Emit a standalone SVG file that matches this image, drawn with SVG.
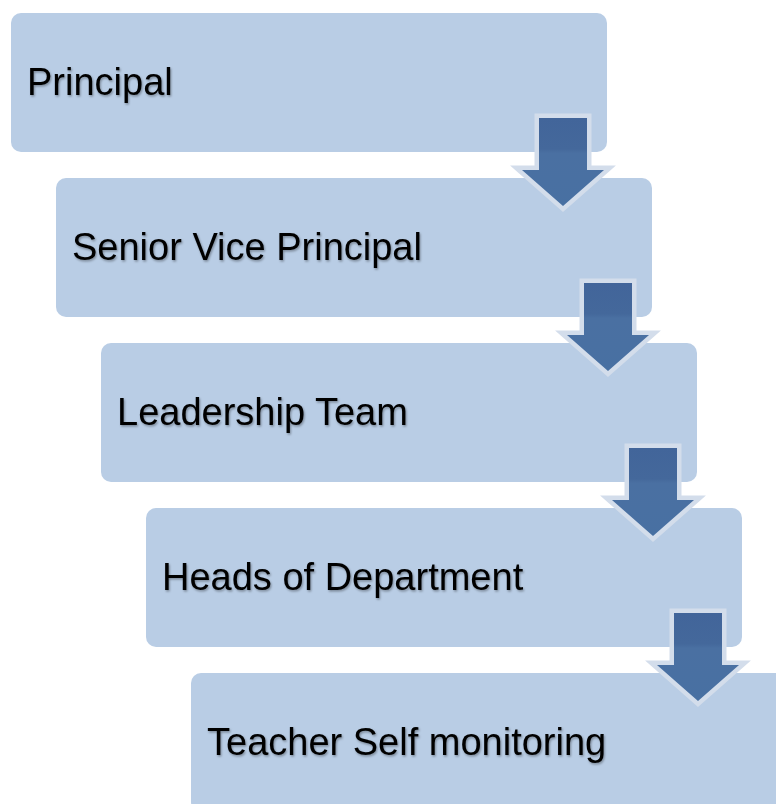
<svg xmlns="http://www.w3.org/2000/svg" width="776" height="804" viewBox="0 0 776 804">
  <defs>
    <linearGradient id="arrowGrad" x1="0" y1="0" x2="0" y2="1">
      <stop offset="0" stop-color="#42659A"/>
      <stop offset="0.35" stop-color="#44689B"/>
      <stop offset="0.4" stop-color="#4A70A2"/>
      <stop offset="1" stop-color="#4870A2"/>
    </linearGradient>
    <filter id="txtShadow" x="-5%" y="-20%" width="110%" height="140%">
      <feDropShadow dx="1" dy="1.5" stdDeviation="1" flood-color="#000000" flood-opacity="0.35"/>
    </filter>
  </defs>
  <style>
    .box { fill: #B9CDE5; }
    .label { font-family: "Liberation Sans", Arial, sans-serif; font-size: 38px; fill: #000000; filter: url(#txtShadow); }
    .arrow { fill: url(#arrowGrad); stroke: #D3DDEB; stroke-width: 9; stroke-linejoin: miter; stroke-miterlimit: 10; paint-order: stroke; }
  </style>
  <rect width="776" height="804" fill="#FFFFFF"/>

  <g id="node-principal">
    <rect class="box" x="11" y="13" width="596" height="139" rx="10"/>
    <text class="label" x="27" y="95">Principal</text>
  </g>
  <g id="node-senior-vice-principal">
    <rect class="box" x="56" y="178" width="596" height="139" rx="10"/>
    <text class="label" x="72" y="260">Senior Vice Principal</text>
  </g>
  <g id="node-leadership-team">
    <rect class="box" x="101" y="343" width="596" height="139" rx="10"/>
    <text class="label" x="117" y="425">Leadership Team</text>
  </g>
  <g id="node-heads-of-department">
    <rect class="box" x="146" y="508" width="596" height="139" rx="10"/>
    <text class="label" x="162" y="590">Heads of Department</text>
  </g>
  <g id="node-teacher-self-monitoring">
    <rect class="box" x="191" y="673" width="596" height="139" rx="10"/>
    <text class="label" x="207" y="755">Teacher Self monitoring</text>
  </g>

  <g id="connectors">
    <path class="arrow" d="M539,118 H587 V170 H604 L563,206 L522,170 H539 Z"/>
    <path class="arrow" d="M584,283 H632 V335 H649 L608,371 L567,335 H584 Z"/>
    <path class="arrow" d="M629,448 H677 V500 H694 L653,536 L612,500 H629 Z"/>
    <path class="arrow" d="M674,613 H722 V665 H739 L698,701 L657,665 H674 Z"/>
  </g>
</svg>
